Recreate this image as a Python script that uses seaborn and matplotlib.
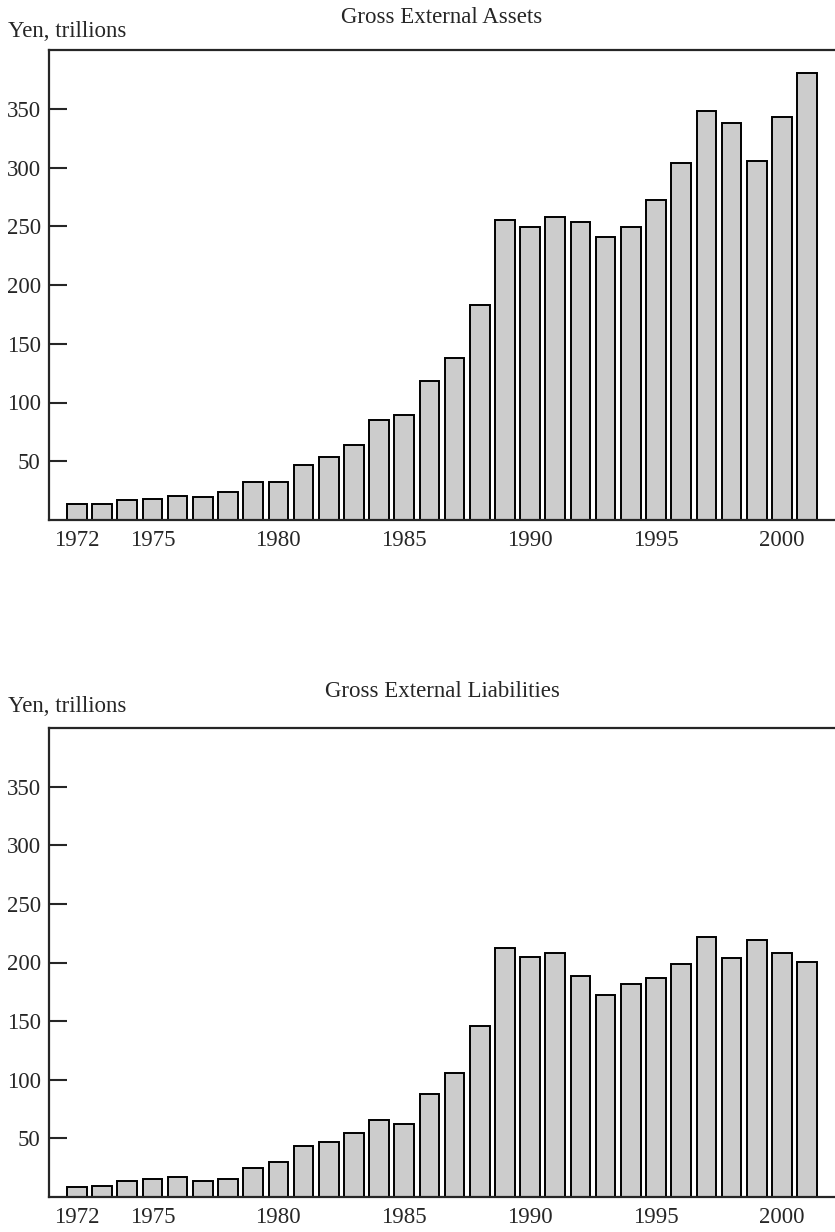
import pandas as pd
import numpy as np
import matplotlib
matplotlib.use("Agg")
import matplotlib.pyplot as plt
import seaborn as sns

years = list(range(1972, 2002))
assets = [13.4, 13.5, 17.0, 17.9, 20.2, 19.6, 23.6, 32.7, 32.7, 46.6,
          54.0, 64.2, 85.0, 89.0, 118.5, 138.2, 182.7, 255.7, 249.7, 258.2,
          254.0, 240.6, 249.7, 272.2, 303.7, 348.0, 338.1, 305.4, 343.2, 380.8]
liabilities = [8.5, 9.4, 13.9, 15.3, 16.8, 13.6, 15.6, 25.0, 29.8, 43.2,
               47.1, 54.5, 65.7, 62.0, 88.0, 106.1, 145.6, 212.0, 204.4, 207.8,
               188.5, 172.0, 181.4, 186.5, 198.7, 221.8, 203.5, 218.9, 207.8, 200.1]
xticks = [1972, 1975, 1980, 1985, 1990, 1995, 2000]
yticks = [50, 100, 150, 200, 250, 300, 350]
titles = ["Gross External Assets", "Gross External Liabilities"]
ylabel = "Yen, trillions"

sns.set_style("ticks")
plt.rcParams['font.family'] = ['Liberation Serif', 'DejaVu Serif']
plt.rcParams['font.size'] = 16.5

df = pd.DataFrame({"year": years, "assets": assets, "liabilities": liabilities})

fig = plt.figure(figsize=(8.35, 12.32), dpi=100)
ax1 = fig.add_axes([49/835, 712/1232, 786/835, 470/1232])
ax2 = fig.add_axes([49/835, 35/1232, 786/835, 469/1232])

def panel(ax, col, title, title_pad, lab_off):
    sns.barplot(data=df, x="year", y=col, native_scale=True, width=0.78,
                color="#cccccc", saturation=1, edgecolor="black", linewidth=1.4,
                errorbar=None, ax=ax)
    ax.set_xlim(1970.89, 2002.11)
    ax.set_ylim(0, 400)
    ax.set_xticks(xticks)
    ax.set_xticklabels([str(t) for t in xticks])
    ax.set_yticks(yticks)
    ax.set_xlabel("")
    ax.set_ylabel("")
    ax.tick_params(axis="y", direction="in", length=13, width=1.5, pad=6)
    ax.tick_params(axis="x", length=0, pad=7)
    for s in ["top", "left", "bottom"]:
        ax.spines[s].set_linewidth(1.6)
    ax.spines["right"].set_visible(False)
    ax.set_title(title, pad=title_pad, fontsize=16.5)
    ax.annotate(ylabel, xy=(0, 1), xycoords="axes fraction",
                xytext=(-29.5, lab_off), textcoords="offset points",
                ha="left", va="baseline")

panel(ax1, "assets", titles[0], 19.5, 9.4)
panel(ax2, "liabilities", titles[1], 22, 11.5)

fig.savefig("out.png", dpi=100)
